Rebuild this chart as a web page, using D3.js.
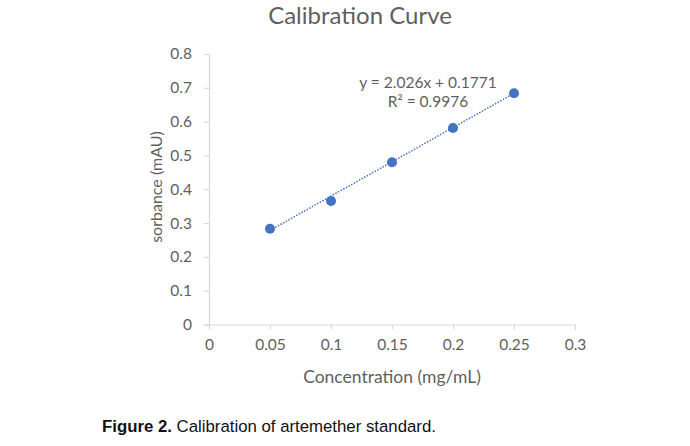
<!DOCTYPE html>
<html><head><meta charset="utf-8">
<script src="https://cdn.jsdelivr.net/npm/d3@7"></script>
<style>
html,body{margin:0;padding:0;background:#fff;}
svg{display:block;}
</style></head>
<body>
<script>
const concentrations = [0.05, 0.10, 0.15, 0.20, 0.25];
const absorbance = [0.283, 0.365, 0.480, 0.581, 0.684];
const xTicks = [0, 0.05, 0.1, 0.15, 0.2, 0.25, 0.3];
const yTicks = [0, 0.1, 0.2, 0.3, 0.4, 0.5, 0.6, 0.7, 0.8];
const slope = 2.026, intercept = 0.1771;
const eqLines = ["y = 2.026x + 0.1771", "R² = 0.9976"];
const title = "Calibration Curve";
const xLabel = "Concentration (mg/mL)";
const yLabel = "sorbance (mAU)";

const W = 690, H = 446;
const svg = d3.select("body").append("svg").attr("width", W).attr("height", H);
const font = "Lato, 'Open Sans', sans-serif";
const gray = "#5f5f5f";
const axisCol = "#d9d9d9";
const blue = "#4472C4";

const x = d3.scaleLinear().domain([0, 0.3]).range([209, 575]);
const y = d3.scaleLinear().domain([0, 0.8]).range([324.5, 54]);

// axes
const xa = svg.append("g").attr("transform", `translate(0,${y(0)})`)
  .call(d3.axisBottom(x).tickValues(xTicks).tickSize(5).tickPadding(9).tickFormat(d => String(+d.toFixed(2))));
const ya = svg.append("g").attr("transform", `translate(${x(0)},0)`)
  .call(d3.axisLeft(y).tickValues(yTicks).tickSize(5).tickPadding(12).tickFormat(d => String(+d.toFixed(1))));
[xa, ya].forEach(g => {
  g.select(".domain").attr("stroke", axisCol).attr("stroke-width", 1.2);
  g.selectAll(".tick line").attr("stroke", axisCol).attr("stroke-width", 1.2);
  g.selectAll(".tick text").attr("fill", gray).attr("font-family", font).attr("font-size", 15.5);
});

// trendline
svg.append("line")
  .attr("x1", x(concentrations[0])).attr("y1", y(slope * concentrations[0] + intercept))
  .attr("x2", x(concentrations[concentrations.length - 1])).attr("y2", y(slope * concentrations[concentrations.length - 1] + intercept))
  .attr("stroke", blue).attr("stroke-width", 1.5).attr("stroke-dasharray", "1.5,1.5");

// points
svg.selectAll("circle.pt").data(concentrations).join("circle")
  .attr("class", "pt")
  .attr("cx", d => x(d)).attr("cy", (d, i) => y(absorbance[i]))
  .attr("r", 5).attr("fill", blue);

// equation
svg.append("text").attr("x", 428).attr("y", 88).attr("text-anchor", "middle")
  .attr("font-family", font).attr("font-size", 15.5).attr("fill", gray).text(eqLines[0]);
svg.append("text").attr("x", 428).attr("y", 107).attr("text-anchor", "middle")
  .attr("font-family", font).attr("font-size", 15.5).attr("fill", gray).text(eqLines[1]);

// title
svg.append("text").attr("x", 360).attr("y", 24).attr("text-anchor", "middle")
  .attr("font-family", font).attr("font-size", 24).attr("fill", gray).text(title);

// x label
svg.append("text").attr("x", 392).attr("y", 383).attr("text-anchor", "middle")
  .attr("font-family", font).attr("font-size", 17.5).attr("fill", gray).text(xLabel);

// y label
svg.append("text").attr("transform", "translate(162,187) rotate(-90)").attr("text-anchor", "middle")
  .attr("font-family", font).attr("font-size", 16).attr("fill", gray).text(yLabel);

// caption
const cap = svg.append("text").attr("x", 102).attr("y", 432)
  .attr("font-family", "'Liberation Sans', Arial, sans-serif").attr("font-size", 16.8).attr("fill", "#111");
cap.append("tspan").attr("font-weight", "bold").text("Figure 2.");
cap.append("tspan").text(" Calibration of artemether standard.");
</script>
</body></html>
